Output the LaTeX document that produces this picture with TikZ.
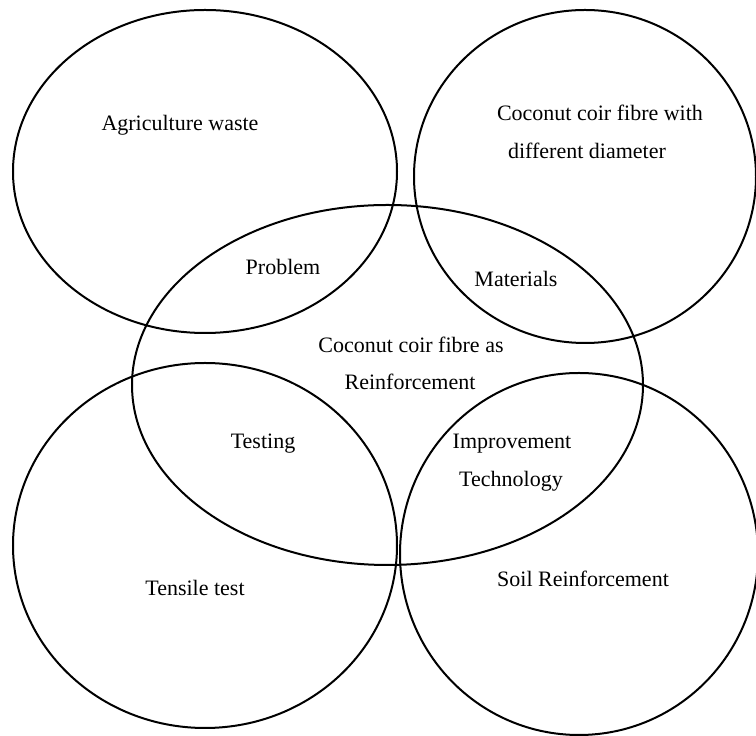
\documentclass[tikz,border=0pt]{standalone}
\usepackage{fontspec}
\setmainfont{Liberation Serif}
\usetikzlibrary{shapes.geometric}
\tikzset{
  venn/.style={draw=black, line width=2pt, ellipse, inner sep=0pt, minimum width=#1},
  lbl/.style={font=\fontsize{22}{37}\selectfont, inner sep=0pt, anchor=center},
}
\begin{document}
\begin{tikzpicture}[x=1pt,y=1pt]
\useasboundingbox (0,0) rectangle (756,736);
\fill[white] (0,0) rectangle (756,736);
% ellipses (centre, width, height)
\node[venn=384pt, minimum height=323pt] (agri) at (205,564.5) {};
\node[venn=342pt, minimum height=333pt] (coir) at (585,559.5) {};
\node[venn=511pt, minimum height=360pt] (centre) at (387.5,351) {};
\node[venn=384pt, minimum height=365pt] (tensile) at (205,190.5) {};
\node[venn=358pt, minimum height=362pt] (soil) at (579,182) {};
% labels
\node[lbl] (tagri) at (180,611) {Agriculture waste};
\node[lbl] (tcoir1) at (600,623) {Coconut coir fibre with};
\node[lbl] (tcoir2) at (587,585) {different diameter};
\node[lbl] (tprob) at (283,469) {Problem};
\node[lbl] (tmat) at (516,457) {Materials};
\node[lbl] (tcen1) at (411,391) {Coconut coir fibre as};
\node[lbl] (tcen2) at (410,354) {Reinforcement};
\node[lbl] (ttest) at (263,292) {Testing};
\node[lbl] (timp1) at (512,292) {Improvement};
\node[lbl] (timp2) at (511,255) {Technology};
\node[lbl] (ttens) at (195,148) {Tensile test};
\node[lbl] (tsoil) at (583,157) {Soil Reinforcement};
\end{tikzpicture}
\end{document}
